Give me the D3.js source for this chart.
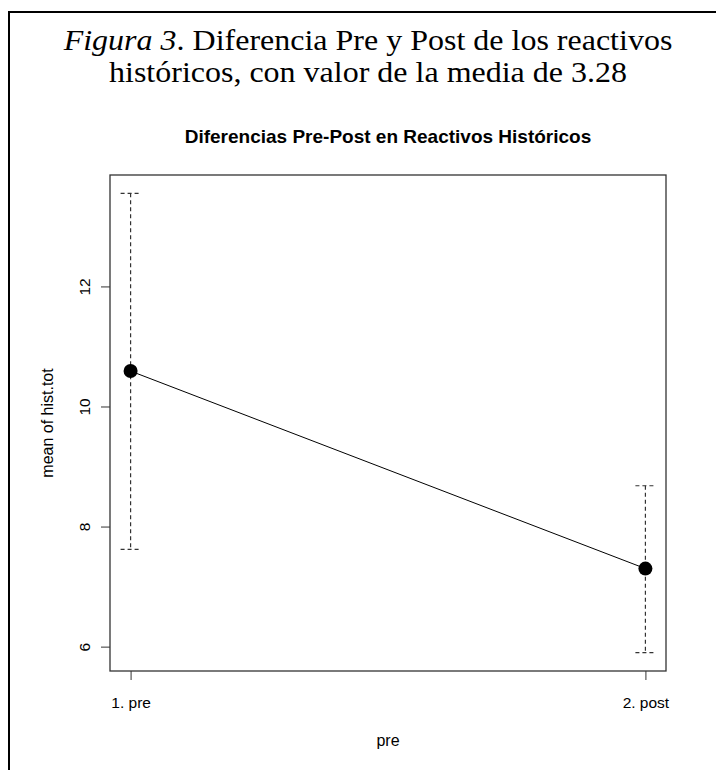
<!DOCTYPE html>
<html>
<head>
<meta charset="utf-8">
<script src="https://d3js.org/d3.v7.min.js"></script>
<style>
  body { margin: 0; background: #fff; }
  svg { display: block; }
</style>
</head>
<body>
<div id="chart"></div>
<script>
// Values
const groups = ["1. pre", "2. post"];
const means = [10.59, 7.30];
const upper = [13.55, 8.68];
const lower = [7.62, 5.90];
const yTicks = [6, 8, 10, 12];

const data = groups.map((g, i) => ({ g, mean: means[i], hi: upper[i], lo: lower[i] }));

const W = 716, H = 770;
// plot region (R style box)
const box = { left: 110, right: 666, top: 175, bottom: 671 };

const svg = d3.select("#chart")
    .append("svg")
    .attr("width", W)
    .attr("height", H);

// outer frame of the figure
svg.append("path")
    .attr("d", `M9,${H} V12 H${W}`)
    .attr("fill", "none")
    .attr("stroke", "#000")
    .attr("stroke-width", 2);

// caption
const serif = "'Liberation Serif', 'Times New Roman', serif";
const l1 = svg.append("text")
    .attr("transform", "translate(368,50) scale(1,0.9)")
    .attr("font-family", serif)
    .attr("font-size", 32)
    .attr("text-anchor", "middle")
    .attr("fill", "#000");
l1.append("tspan").attr("font-style", "italic").text("Figura 3");
l1.append("tspan").text(". Diferencia Pre y Post de los reactivos");

svg.append("text")
    .attr("transform", "translate(368,82) scale(1,0.9)")
    .attr("font-family", serif)
    .attr("font-size", 32)
    .attr("text-anchor", "middle")
    .attr("fill", "#000")
    .text("históricos, con valor de la media de 3.28");

// scales, R adds 4% on each side
const x = d3.scalePoint()
    .domain(groups)
    .range([box.left, box.right])
    .padding(0.04);

const lo = d3.min(lower), hi = d3.max(upper), pad = (hi - lo) * 0.04;
const y = d3.scaleLinear()
    .domain([lo - pad, hi + pad])
    .range([box.bottom, box.top]);

const font = "'Liberation Sans', Arial, sans-serif";

// main title
svg.append("text")
    .attr("x", (box.left + box.right) / 2)
    .attr("y", 143)
    .attr("text-anchor", "middle")
    .attr("font-family", font)
    .attr("font-weight", "bold")
    .attr("font-size", 19)
    .text("Diferencias Pre-Post en Reactivos Históricos");

// y axis
const yAxis = svg.append("g")
    .attr("transform", `translate(${box.left},0)`)
    .call(d3.axisLeft(y).tickValues(yTicks).tickSize(9).tickSizeOuter(0));
yAxis.select(".domain").remove();
yAxis.selectAll(".tick line").attr("stroke", "#333");
yAxis.selectAll(".tick text")
    .attr("x", null).attr("dy", null)
    .attr("transform", "translate(-20,0) rotate(-90)")
    .attr("text-anchor", "middle")
    .attr("font-family", font)
    .attr("font-size", 15.5)
    .attr("fill", "#000");

// x axis
const xAxis = svg.append("g")
    .attr("transform", `translate(0,${box.bottom})`)
    .call(d3.axisBottom(x).tickSize(9).tickSizeOuter(0));
xAxis.select(".domain").remove();
xAxis.selectAll(".tick line").attr("stroke", "#333");
xAxis.selectAll(".tick text")
    .attr("y", 37).attr("dy", null)
    .attr("font-family", font)
    .attr("font-size", 15.5)
    .attr("fill", "#000");

// axis titles
svg.append("text")
    .attr("x", (box.left + box.right) / 2)
    .attr("y", 746)
    .attr("text-anchor", "middle")
    .attr("font-family", font)
    .attr("font-size", 16)
    .text("pre");

svg.append("text")
    .attr("transform", `translate(53,${(box.top + box.bottom) / 2}) rotate(-90)`)
    .attr("text-anchor", "middle")
    .attr("font-family", font)
    .attr("font-size", 16)
    .text("mean of hist.tot");

// plot box
svg.append("rect")
    .attr("x", box.left)
    .attr("y", box.top)
    .attr("width", box.right - box.left)
    .attr("height", box.bottom - box.top)
    .attr("fill", "none")
    .attr("stroke", "#333")
    .attr("stroke-width", 1.3);

// error bars (dashed)
const bars = svg.append("g")
    .attr("stroke", "#333")
    .attr("stroke-width", 1.2)
    .attr("stroke-dasharray", "4,3")
    .attr("fill", "none");

bars.selectAll("line.v")
    .data(data)
    .join("line")
    .attr("class", "v")
    .attr("x1", d => x(d.g)).attr("x2", d => x(d.g))
    .attr("y1", d => y(d.hi)).attr("y2", d => y(d.lo));

bars.selectAll("line.capHi")
    .data(data)
    .join("line")
    .attr("class", "capHi")
    .attr("x1", d => x(d.g) - 10).attr("x2", d => x(d.g) + 10)
    .attr("y1", d => y(d.hi)).attr("y2", d => y(d.hi));

bars.selectAll("line.capLo")
    .data(data)
    .join("line")
    .attr("class", "capLo")
    .attr("x1", d => x(d.g) - 10).attr("x2", d => x(d.g) + 10)
    .attr("y1", d => y(d.lo)).attr("y2", d => y(d.lo));

// line between means
svg.append("path")
    .datum(data)
    .attr("fill", "none")
    .attr("stroke", "#000")
    .attr("stroke-width", 1)
    .attr("d", d3.line().x(d => x(d.g)).y(d => y(d.mean)));

// mean points
svg.selectAll("circle.mean")
    .data(data)
    .join("circle")
    .attr("class", "mean")
    .attr("cx", d => x(d.g))
    .attr("cy", d => y(d.mean))
    .attr("r", 7)
    .attr("fill", "#000");
</script>
</body>
</html>
